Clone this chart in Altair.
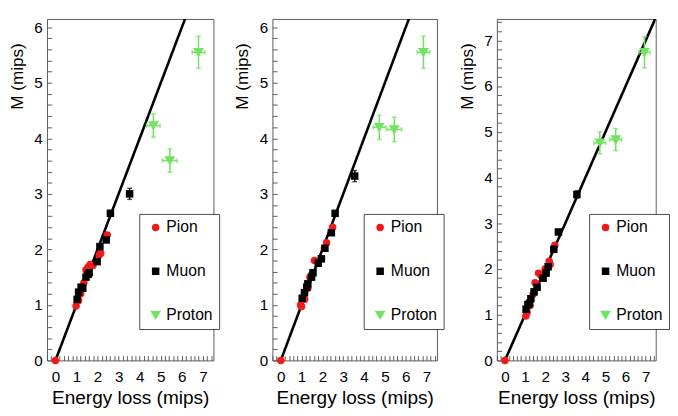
import altair as alt
import pandas as pd

particles = ["Pion", "Muon", "Proton"]
colors = ["#f01a1a", "#000000", "#72e262"]
shapes = ["circle", "square", "M-1.45,-1.15L1.45,-1.15L0,1.35Z"]

# ---- data per panel ----
pion_x = [
    [0, 0.98, 1.1, 1.2, 1.35, 1.45, 1.55, 1.65, 1.78, 2.08, 2.15, 2.46],
    [0, 0.95, 1.0, 1.15, 1.3, 1.4, 1.5, 1.62, 1.8, 2.1, 2.2, 2.49],
    [0, 1.04, 1.1, 1.25, 1.4, 1.5, 1.67, 1.8, 2.0, 2.2, 2.25, 2.48],
]
pion_y = [
    [0, 0.98, 1.08, 1.2, 1.4, 1.63, 1.68, 1.73, 1.71, 1.9, 1.93, 2.26],
    [0, 1.0, 0.97, 1.1, 1.3, 1.5, 1.55, 1.8, 1.78, 2.02, 2.12, 2.4],
    [0, 0.97, 1.05, 1.2, 1.45, 1.7, 1.91, 1.85, 2.0, 2.17, 2.1, 2.52],
]
muon_x = [
    [1.03, 1.1, 1.22, 1.3, 1.45, 1.55, 1.6, 1.98, 2.11, 2.41, 2.61, 3.52],
    [1.03, 1.14, 1.25, 1.3, 1.48, 1.55, 1.8, 1.95, 2.12, 2.43, 2.61, 3.55],
    [1.05, 1.14, 1.22, 1.29, 1.45, 1.6, 1.9, 2.05, 2.15, 2.43, 2.66, 3.58],
]
muon_y = [
    [1.1, 1.23, 1.32, 1.3, 1.5, 1.55, 1.58, 1.78, 2.05, 2.17, 2.65, 3.0],
    [1.12, 1.22, 1.32, 1.38, 1.5, 1.58, 1.75, 1.83, 2.02, 2.3, 2.65, 3.32],
    [1.12, 1.22, 1.25, 1.35, 1.5, 1.6, 1.8, 1.91, 2.05, 2.43, 2.81, 3.63],
]
muon_err = [0.1, 0.1, 0.08]  # y error of the last (highest) muon point
proton_x = [[4.65, 5.43, 6.79], [4.73, 5.45, 6.85], [4.72, 5.51, 6.94]]
proton_y = [[4.23, 3.6, 5.55], [4.2, 4.16, 5.55], [4.76, 4.83, 6.74]]
proton_xerr = [[0.32, 0.35, 0.3], [0.3, 0.35, 0.3], [0.3, 0.3, 0.28]]
proton_yerr = [[0.21, 0.21, 0.29], [0.22, 0.22, 0.29], [0.24, 0.24, 0.34]]

fit_x = [0, 7.6]
fit_y = [0, 7.6]

y_max = [6.15, 6.15, 7.47]
x_domain = [-0.4, 7.5]

widths = [175, 173, 167]
legend_x = [97, 96, 97]
H = 359
frame_col = "#555555"
FONT = "Liberation Sans"
SYM = 62
TICK = 5  # inward tick length in pixels


def tick_vals(lo, hi):
    # every 0.2 units; integer ones get labels
    out = []
    k = int(lo * 5)
    while k / 5 <= hi:
        if k / 5 >= lo:
            out.append(round(k / 5, 1))
        k += 1
    return out


LABEL_EXPR = "datum.value % 1 == 0 ? format(datum.value, 'd') : ''"


def panel(i):
    W = widths[i]
    y0, y1 = 0, y_max[i]
    xs = alt.Scale(domain=x_domain, nice=False, zero=False)
    ys = alt.Scale(domain=[y0, y1], nice=False, zero=False)
    xaxis = alt.Axis(title="Energy loss (mips)", values=tick_vals(*x_domain),
                     labelExpr=LABEL_EXPR, ticks=True, tickSize={"expr": str(-TICK)},
                     tickColor=frame_col, tickWidth=1, domain=False, grid=False,
                     labelPadding=9 + TICK, titlePadding=4, labelFlush=False,
                     titleFontSize=20)
    yaxis = alt.Axis(title="M (mips)", values=tick_vals(y0, y1),
                     labelExpr=LABEL_EXPR, ticks=True, tickSize={"expr": str(-TICK)},
                     tickColor=frame_col, tickWidth=1, domain=False, grid=False,
                     labelPadding=5 + TICK, titlePadding=8, labelFlush=False,
                     titleAnchor="end", titleY=25, titleFontSize=18)
    X = lambda f: alt.X(f, scale=xs, axis=xaxis)
    Y = lambda f: alt.Y(f, scale=ys, axis=yaxis)

    n_p, n_m, n_r = len(pion_x[i]), len(muon_x[i]), len(proton_x[i])
    pts = pd.DataFrame({
        "particle": ["Pion"] * n_p + ["Muon"] * n_m + ["Proton"] * n_r,
        "x": pion_x[i] + muon_x[i] + proton_x[i],
        "y": pion_y[i] + muon_y[i] + proton_y[i],
    })
    prot = pd.DataFrame({
        "x": proton_x[i], "y": proton_y[i],
        "xlo": [a - b for a, b in zip(proton_x[i], proton_xerr[i])],
        "xhi": [a + b for a, b in zip(proton_x[i], proton_xerr[i])],
        "ylo": [a - b for a, b in zip(proton_y[i], proton_yerr[i])],
        "yhi": [a + b for a, b in zip(proton_y[i], proton_yerr[i])],
    })
    mu = pd.DataFrame({
        "x": [muon_x[i][-1]],
        "ylo": [muon_y[i][-1] - muon_err[i]],
        "yhi": [muon_y[i][-1] + muon_err[i]],
    })

    leg = alt.Legend(title=None, orient="none", legendX=legend_x[i], legendY=205,
                     labelFontSize=16.5, labelFont=FONT, labelColor="black",
                     strokeColor="#444444", fillColor="white", padding=6,
                     rowPadding=29, symbolOffset=3, labelOffset=3,
                     symbolStrokeWidth=0, symbolSize=SYM)

    layers = []
    line = alt.Chart(pd.DataFrame({"x": fit_x, "y": fit_y})).mark_line(
        color="black", strokeWidth=2.7, clip=True).encode(x=X("x:Q"), y=Y("y:Q"))
    layers.append(line)

    green = colors[2]
    layers.append(alt.Chart(prot).mark_errorbar(ticks=True, color=green, thickness=1.6,
                                                 orient="vertical").encode(
        x=X("x:Q"), y=Y("ylo:Q"), y2="yhi:Q"))
    layers.append(alt.Chart(prot).mark_errorbar(ticks=True, color=green, thickness=1.6,
                                                 orient="horizontal").encode(
        y=Y("y:Q"), x=X("xlo:Q"), x2="xhi:Q"))
    layers.append(alt.Chart(mu).mark_errorbar(ticks=True, color="black", thickness=1.4,
                                               orient="vertical").encode(
        x=X("x:Q"), y=Y("ylo:Q"), y2="yhi:Q"))

    points = alt.Chart(pts).mark_point(filled=True, opacity=1, strokeWidth=0,
                                       size=SYM).encode(
        x=X("x:Q"), y=Y("y:Q"),
        color=alt.Color("particle:N", scale=alt.Scale(domain=particles, range=colors), legend=leg),
        shape=alt.Shape("particle:N", scale=alt.Scale(domain=particles, range=shapes), legend=leg),
    )
    layers.append(points)
    return alt.layer(*layers).properties(width=W, height=H)


chart = alt.hconcat(panel(0), panel(1), panel(2), spacing=14).resolve_scale(
    color="independent", shape="independent"
).properties(padding=0).configure_view(
    stroke=frame_col, strokeWidth=1
).configure_axis(
    labelFont=FONT, titleFont=FONT, labelFontSize=16,
    labelColor="black", titleColor="black", titleFontWeight="normal"
)

chart.save("out.html", embed_options={"renderer": "svg", "actions": False})
